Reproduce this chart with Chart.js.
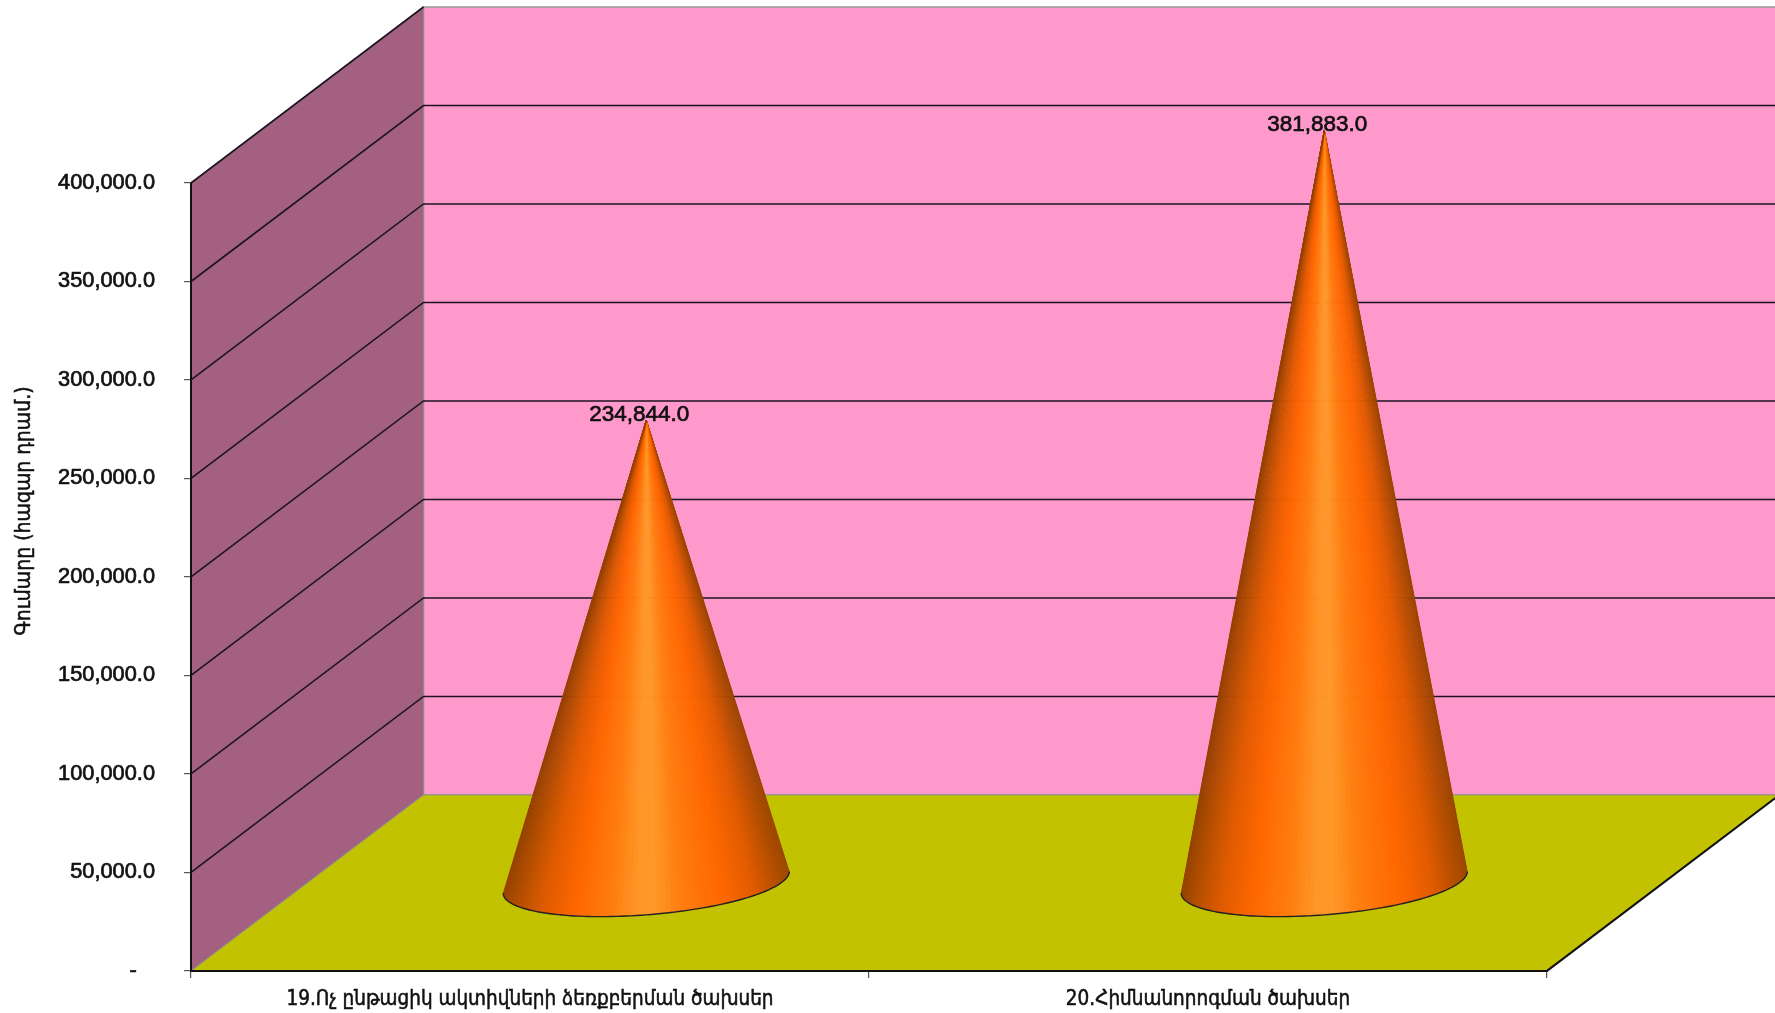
<!DOCTYPE html>
<html>
<head>
<meta charset="utf-8">
<title>Cone chart</title>
<script src="https://cdn.jsdelivr.net/npm/chart.js@4"></script>
<style>
  html, body { margin: 0; padding: 0; background: #fff; }
  #wrap { width: 1775px; height: 1013px; }
</style>
</head>
<body>
<div id="wrap"><canvas id="c"></canvas></div>
<script>
"use strict";
const categories = ["19.Ոչ ընթացիկ ակտիվների ձեռքբերման ծախսեր", "20.Հիմնանորոգման ծախսեր"];
const values = [234844, 381883];
const axisTitle = "Գումարը (հազար դրամ.)";
const yMax = 400000;
const yStep = 50000;

// depth of the fake 3D box, in pixels
const DX = 232.5, DY = -176;
const INK = "#111";
const ARM = "'DejaVu Sans Condensed','DejaVu Sans',sans-serif";
const LAT = "'Liberation Sans',Arial,sans-serif";

const fmt = (v) => v.toLocaleString("en-US", { minimumFractionDigits: 1, maximumFractionDigits: 1 });

// colour across the cone, f = 0 left edge .. 1 right edge
const stops = [[0, [150, 64, 0]], [0.07, [190, 80, 0]], [0.14, [225, 90, 0]], [0.25, [255, 102, 0]], [0.38, [255, 125, 15]], [0.47, [255, 150, 40]], [0.53, [255, 152, 40]], [0.62, [255, 125, 15]], [0.77, [255, 102, 0]], [0.88, [225, 90, 0]], [1, [155, 68, 0]]];
function shade(f) {
  for (let i = 1; i < stops.length; i++) {
    if (f <= stops[i][0]) {
      const a = stops[i - 1], b = stops[i], k = (f - a[0]) / (b[0] - a[0]);
      return "rgb(" + a[1].map((c, j) => Math.round(c + (b[1][j] - c) * k)).join(",") + ")";
    }
  }
  return "rgb(155,68,0)";
}

class ConeController extends Chart.BarController {
  draw() {
    const ctx = this.chart.ctx;
    this.getMeta().data.forEach((el) => {
      const p = el.getProps(["x", "y", "base", "width"], true);
      const cx = p.x + DX / 2, cy = p.base + DY / 2, topY = p.y + DY / 2;
      const a = p.width / 2, bx = DX * 0.195, by = DY * 0.195;
      const pt = (t) => [cx + a * Math.cos(t) + bx * Math.sin(t), cy + by * Math.sin(t)];
      const t0 = Math.atan2(bx, a), n = 90;
      const half = Math.hypot(a, bx);
      ctx.save();
      // t0 is the right silhouette point, walk round the front of the base to the left one
      for (let i = 0; i < n; i++) {
        const q0 = pt(t0 - i * Math.PI / n), q1 = pt(t0 - (i + 1) * Math.PI / n);
        const col = shade(((q0[0] + q1[0]) / 2 - (cx - half)) / (2 * half));
        ctx.fillStyle = col; ctx.strokeStyle = col; ctx.lineWidth = 0.6;
        ctx.beginPath(); ctx.moveTo(cx, topY); ctx.lineTo(q0[0], q0[1]); ctx.lineTo(q1[0], q1[1]); ctx.closePath();
        ctx.fill(); ctx.stroke();
      }
      ctx.strokeStyle = "#222"; ctx.lineWidth = 1.4;
      ctx.beginPath();
      for (let i = 0; i <= n; i++) {
        const q = pt(t0 - i * Math.PI / n);
        if (i) ctx.lineTo(q[0], q[1]); else ctx.moveTo(q[0], q[1]);
      }
      ctx.stroke();
      ctx.restore();
    });
  }
}
ConeController.id = "cone";
ConeController.defaults = Chart.BarController.defaults;
Chart.register(ConeController);

const box3d = {
  id: "box3d",
  beforeDatasetsDraw(chart) {
    const { ctx, chartArea: ca, scales: { y } } = chart;
    const poly = (pts, fill, stroke, lw) => {
      ctx.beginPath();
      pts.forEach((q, i) => i ? ctx.lineTo(q[0], q[1]) : ctx.moveTo(q[0], q[1]));
      ctx.closePath();
      if (fill) { ctx.fillStyle = fill; ctx.fill(); }
      if (stroke) { ctx.strokeStyle = stroke; ctx.lineWidth = lw || 1; ctx.stroke(); }
    };
    const L = ca.left, R = ca.right, B = ca.bottom, T = ca.top;
    ctx.save();
    poly([[L + DX, T + DY], [R + DX, T + DY], [R + DX, B + DY], [L + DX, B + DY]], "#ff99cc", "#9a9a9a", 1.5);
    poly([[L, T], [L + DX, T + DY], [L + DX, B + DY], [L, B]], "#a36080", "#8c8c8c", 1.2);
    poly([[L, B], [R, B], [R + DX, B + DY], [L + DX, B + DY]], "#c2c200", "#8c8c8c", 1);
    // grid lines run along the side wall, then along the back wall
    ctx.strokeStyle = "#1c1420"; ctx.lineWidth = 1.6;
    y.ticks.forEach((t) => {
      if (t.value === 0) return;
      const py = y.getPixelForValue(t.value);
      ctx.beginPath(); ctx.moveTo(L, py); ctx.lineTo(L + DX, py + DY);
      if (t.value < yMax) ctx.lineTo(R + DX, py + DY);
      ctx.stroke();
    });
    // the walls cover the axis lines, so put them back on top
    ctx.strokeStyle = "#111"; ctx.lineWidth = 2;
    ctx.beginPath(); ctx.moveTo(L, T); ctx.lineTo(L, B); ctx.lineTo(R, B); ctx.lineTo(R + DX, B + DY); ctx.stroke();
    ctx.restore();
  },
  afterDatasetsDraw(chart) {
    const { ctx } = chart;
    ctx.save();
    ctx.fillStyle = INK; ctx.strokeStyle = INK; ctx.lineWidth = 0.7;
    ctx.font = "22.5px " + LAT; ctx.textAlign = "center"; ctx.textBaseline = "middle";
    chart.getDatasetMeta(0).data.forEach((el, i) => {
      const lx = el.x + DX / 2 - 7, ly = el.y + DY / 2 - 5.5;
      ctx.fillText(fmt(values[i]), lx, ly); ctx.strokeText(fmt(values[i]), lx, ly);
    });
    // axis title sits above the middle of the axis, so it is not the scale's own title
    ctx.translate(25, 511); ctx.rotate(-Math.PI / 2);
    ctx.font = "21px " + ARM; ctx.lineWidth = 0.5;
    ctx.fillText(axisTitle, 0, 0); ctx.strokeText(axisTitle, 0, 0);
    ctx.restore();
  }
};

new Chart(document.getElementById("c"), {
  type: "cone",
  data: { labels: categories, datasets: [{ data: values, barPercentage: 0.4, categoryPercentage: 1, clip: false }] },
  plugins: [box3d],
  options: {
    responsive: true, maintainAspectRatio: false, animation: false,
    layout: { padding: { top: 183, right: 228, left: 0, bottom: 0 } },
    plugins: { legend: { display: false }, tooltip: { enabled: false } },
    scales: {
      x: {
        type: "category", offset: true,
        afterFit: (s) => { s.height = 41.5; },
        grid: { offset: true, drawOnChartArea: false, color: "#555", lineWidth: 1.2, tickLength: 7 },
        border: { color: "#111", width: 2 },
        ticks: { color: INK, font: { family: ARM, size: 20.5 }, padding: 9, maxRotation: 0, autoSkip: false, textStrokeColor: INK, textStrokeWidth: 0.5 }
      },
      y: {
        type: "linear", min: 0, max: yMax,
        afterFit: (s) => { s.width = 191; },
        grid: { drawOnChartArea: false, color: "#555", lineWidth: 1.2, tickLength: 7 },
        border: { color: "#111", width: 2 },
        ticks: { stepSize: yStep, color: INK, font: { family: LAT, size: 21.8 }, padding: 29, textStrokeColor: INK, textStrokeWidth: 0.7,
          callback: (v) => v === 0 ? "-   " : fmt(v) }
      }
    }
  }
});
</script>
</body>
</html>
